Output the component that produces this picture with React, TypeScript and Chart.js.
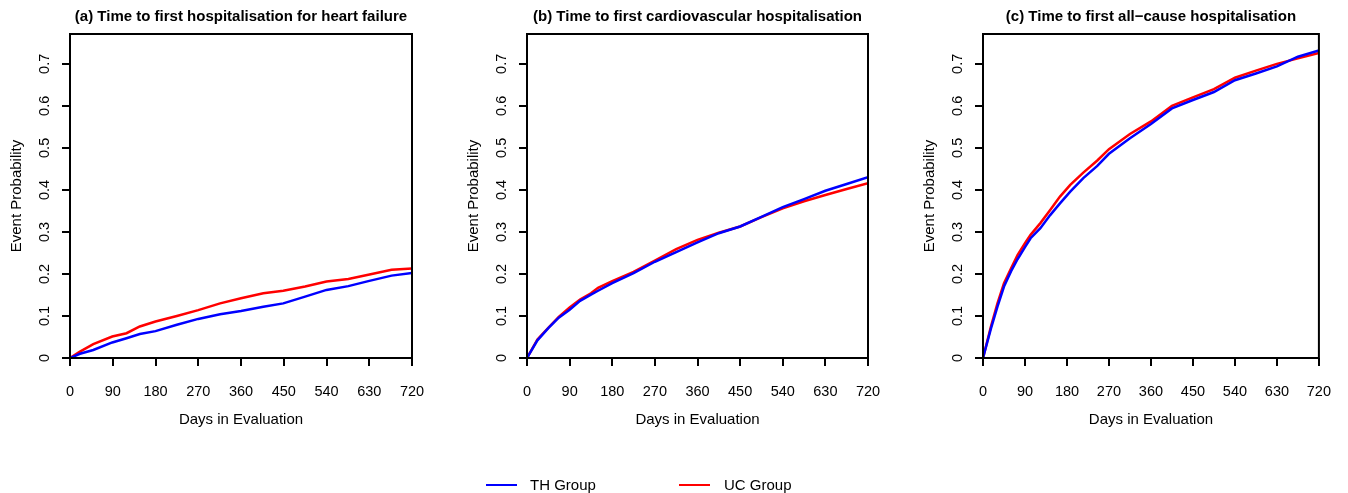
import React, { useEffect, useRef } from "react";
import { Chart, registerables } from "chart.js";

Chart.register(...registerables);

// ---------- data ----------
const xTickStep = 90;
const xMax = 720;
const yMax = 0.771;
const yTickStep = 0.1;

const panelTitles = [
  "(a) Time to first hospitalisation for heart failure",
  "(b) Time to first cardiovascular hospitalisation",
  "(c) Time to first all\u2212cause hospitalisation",
];
const xAxisTitle = "Days in Evaluation";
const yAxisTitle = "Event Probability";
const seriesNames = ["TH Group", "UC Group"];
const seriesColors = ["#0000FF", "#FF0000"];

// (a) heart failure
const daysA = [0, 21, 49, 89, 119, 147, 180, 225, 270, 316, 360, 407, 449, 495, 540, 586, 628, 677, 720];
const thA = [0, 0.010, 0.019, 0.037, 0.047, 0.057, 0.064, 0.079, 0.093, 0.104, 0.112, 0.122, 0.130, 0.146, 0.162, 0.171, 0.183, 0.196, 0.202];
const ucA = [0, 0.015, 0.033, 0.051, 0.059, 0.075, 0.087, 0.100, 0.114, 0.130, 0.142, 0.154, 0.160, 0.170, 0.182, 0.188, 0.198, 0.210, 0.213];

// (b) cardiovascular
const daysB = [0, 22, 45, 67, 90, 112, 135, 150, 180, 225, 270, 315, 360, 405, 450, 495, 540, 585, 630, 675, 720];
const thB = [0, 0.042, 0.071, 0.096, 0.115, 0.136, 0.151, 0.160, 0.178, 0.202, 0.229, 0.252, 0.275, 0.297, 0.313, 0.336, 0.359, 0.378, 0.398, 0.414, 0.430];
const ucB = [0, 0.044, 0.072, 0.098, 0.120, 0.139, 0.154, 0.167, 0.183, 0.205, 0.232, 0.259, 0.281, 0.298, 0.313, 0.335, 0.356, 0.373, 0.388, 0.402, 0.416];

// (c) all-cause
const daysC = [0, 17, 31, 45, 60, 74, 90, 102, 123, 144, 165, 187, 215, 245, 270, 315, 360, 405, 450, 495, 540, 585, 630, 675, 720];
const thC = [0, 0.070, 0.122, 0.170, 0.206, 0.235, 0.264, 0.285, 0.309, 0.340, 0.368, 0.396, 0.428, 0.457, 0.486, 0.523, 0.557, 0.594, 0.614, 0.633, 0.661, 0.677, 0.694, 0.717, 0.732];
const ucC = [0, 0.075, 0.130, 0.178, 0.213, 0.245, 0.273, 0.293, 0.321, 0.352, 0.384, 0.412, 0.441, 0.470, 0.497, 0.533, 0.563, 0.600, 0.620, 0.640, 0.667, 0.684, 0.700, 0.713, 0.726];

const panelDays = [daysA, daysB, daysC];
const panelSeries = [
  [thA, ucA],
  [thB, ucB],
  [thC, ucC],
];

// ---------- layout ----------
const W = 1348;
const H = 493;
const FONT = "'Liberation Sans', Arial, Helvetica, sans-serif";
const plotLefts = [70, 527, 983];
const plotRights = [412, 868, 1324];
const plotTop = 34;
const plotBottom = 358;
const yScaleWidth = 70;

const framePlugin = {
  id: "frameAndLabels",
  afterDraw(chart: any, _args: any, opts: any) {
    const { ctx, chartArea: ca } = chart;
    ctx.save();
    ctx.strokeStyle = "#000";
    ctx.lineWidth = 2;
    ctx.strokeRect(ca.left, ca.top, ca.right - ca.left, ca.bottom - ca.top);

    ctx.fillStyle = "#000";
    ctx.textAlign = "center";
    ctx.textBaseline = "middle";
    ctx.font = `bold 15px ${FONT}`;
    ctx.fillText(opts.title, (ca.left + ca.right) / 2, 17);

    const ys = chart.scales.y;
    ctx.font = `14.5px ${FONT}`;
    ys.ticks.forEach((t: any) => {
      const y = ys.getPixelForValue(t.value);
      ctx.save();
      ctx.translate(ca.left - 25, y);
      ctx.rotate(-Math.PI / 2);
      ctx.fillText(t.label, 0, 0);
      ctx.restore();
    });
    ctx.restore();
  },
};

function Panel({ index }: { index: number }) {
  const ref = useRef<HTMLCanvasElement | null>(null);
  useEffect(() => {
    if (!ref.current) return;
    const days = panelDays[index];
    const datasets = panelSeries[index].map((vals, si) => ({
      label: seriesNames[si],
      data: days.map((d, i) => ({ x: d, y: vals[i] })),
      borderColor: seriesColors[si],
      backgroundColor: seriesColors[si],
      borderWidth: 2.5,
      pointRadius: 0,
      tension: 0,
      fill: false,
    }));
    const tickFont = { family: FONT, size: 14.5 };
    const titleFont = { family: FONT, size: 15 };
    const chart = new Chart(ref.current, {
      type: "line",
      data: { datasets },
      plugins: [framePlugin as any],
      options: {
        animation: false,
        responsive: false,
        maintainAspectRatio: false,
        events: [],
        layout: {
          padding: {
            left: plotLefts[index] - yScaleWidth,
            right: W - plotRights[index],
            top: plotTop,
            bottom: 0,
          },
        },
        plugins: {
          legend: { display: false },
          tooltip: { enabled: false },
          title: { display: false },
          frameAndLabels: { title: panelTitles[index] },
        } as any,
        scales: {
          x: {
            type: "linear",
            min: 0,
            max: xMax,
            ticks: {
              stepSize: xTickStep,
              autoSkip: false,
              maxRotation: 0,
              padding: 17,
              color: "#000",
              font: tickFont,
            },
            grid: {
              drawOnChartArea: false,
              drawTicks: true,
              tickLength: 8,
              color: "#000",
              lineWidth: 2,
            },
            border: { display: false },
            title: {
              display: true,
              text: xAxisTitle,
              color: "#000",
              font: titleFont,
              padding: { top: 0, bottom: 64 },
            },
            afterFit: (s: any) => {
              s.height = H - plotBottom;
            },
          },
          y: {
            type: "linear",
            min: 0,
            max: yMax,
            ticks: {
              stepSize: yTickStep,
              includeBounds: false,
              display: false,
            },
            grid: {
              drawOnChartArea: false,
              drawTicks: true,
              tickLength: 8,
              color: "#000",
              lineWidth: 2,
            },
            border: { display: false },
            title: {
              display: true,
              text: yAxisTitle,
              color: "#000",
              font: titleFont,
              padding: { top: 8, bottom: 0 },
            },
            afterFit: (s: any) => {
              s.width = yScaleWidth;
            },
          },
        },
      } as any,
    });
    return () => chart.destroy();
  }, [index]);
  return (
    <canvas
      ref={ref}
      width={W}
      height={H}
      style={{ position: "absolute", left: 0, top: 0, width: W, height: H }}
    />
  );
}

export default function App() {
  const legendItems = [
    { lineLeft: 486, textLeft: 530 },
    { lineLeft: 679, textLeft: 724 },
  ];
  return (
    <div
      style={{
        position: "absolute",
        left: 0,
        top: 0,
        width: W,
        height: H,
        background: "#fff",
        overflow: "hidden",
        fontFamily: FONT,
      }}
    >
      {[0, 1, 2].map((i) => (
        <Panel key={i} index={i} />
      ))}
      {seriesNames.map((name, i) => (
        <React.Fragment key={name}>
          <div
            style={{
              position: "absolute",
              left: legendItems[i].lineLeft,
              top: 484,
              width: 31,
              height: 2,
              background: seriesColors[i],
            }}
          />
          <div
            style={{
              position: "absolute",
              left: legendItems[i].textLeft,
              top: 476,
              fontSize: 15,
              lineHeight: "17px",
              color: "#000",
              whiteSpace: "nowrap",
            }}
          >
            {name}
          </div>
        </React.Fragment>
      ))}
    </div>
  );
}
